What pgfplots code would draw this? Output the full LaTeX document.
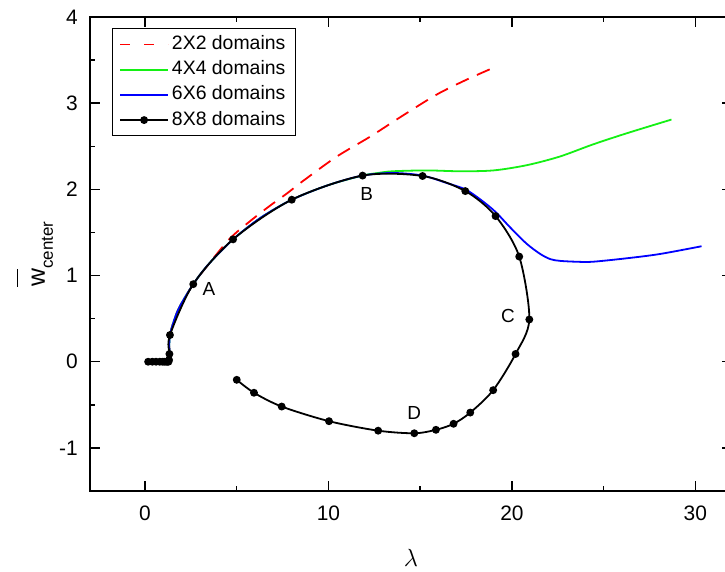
\documentclass[border=0pt]{standalone}
\usepackage{pgfplots}
\pgfplotsset{compat=1.18}
\usepackage{fontspec}
\setmainfont{Liberation Sans}
\definecolor{cred}{RGB}{255,0,0}
\definecolor{cgreen}{RGB}{20,240,20}
\definecolor{cblue}{RGB}{0,0,255}
\pgfplotsset{redlegend/.style={legend image code/.code={\draw[##1, dash pattern=on 10bp off 14bp] (0bp,0bp) -- (48bp,0bp);}}}
\begin{document}
\begin{tikzpicture}
\useasboundingbox (-90bp,-81bp) rectangle (635bp,491bp);
\begin{axis}[
  at={(0bp,0bp)}, anchor=south west,
  scale only axis, width=642bp, height=474bp,
  xmin=-3, xmax=32, ymin=-1.5, ymax=4,
  xtick={0,10,20,30}, xticklabels={0,10,20,30},
  ytick={-1,0,1,2,3,4}, yticklabels={-1,0,1,2,3,4},
  minor x tick num=1, minor y tick num=1,
  tick align=inside,
  major tick length=10bp, minor tick length=5bp,
  every tick/.style={black, line width=1.5bp},
  axis line style={line width=1.6bp},
  tick label style={font=\fontsize{21}{25}\selectfont, inner sep=0pt},
  xticklabel style={anchor=north, yshift=-15bp},
  yticklabel style={anchor=east, xshift=-12bp},
  xlabel={\fontsize{24}{28}\selectfont$\lambda$},
  every axis x label/.style={at={(axis description cs:0.5,-0.1603)}, anchor=base},
  ylabel={\fontsize{25}{30}\selectfont$\overline{\mbox{\rule{0pt}{1.05em}w}}$\raisebox{-8bp}{\fontsize{17}{20}\selectfont center}},
  every axis y label/.style={at={(axis description cs:-0.0701,0.5)}, rotate=90, anchor=base},
  legend image code/.code={\draw[mark repeat=2,mark phase=2,#1] plot coordinates {(0bp,0bp) (24bp,0bp) (48bp,0bp)};},
  legend cell align=left,
  legend style={at={(axis description cs:0.0338,0.976)}, anchor=north west,
    draw=black, line width=1bp, font=\fontsize{19.5}{22}\selectfont,
    inner xsep=7bp, inner ysep=3bp, row sep=0pt,
    nodes={inner ysep=3.6bp, inner xsep=3bp, text height=14bp, text depth=4bp}},
]
\addplot[cred, line width=1.8bp, dash pattern=on 14bp off 9bp, smooth, redlegend] coordinates {
(1.31,0.02)(1.33,0.09)(1.36,0.31)(1.8,0.60)(2.63,0.90)(3.5,1.14)(4.63,1.43)(5.72,1.63)(6.81,1.81)(7.72,1.95)(8.63,2.10)(10.45,2.38)(12.26,2.61)(14.08,2.86)(15.9,3.10)(17.5,3.27)(18.98,3.41)
};
\addlegendentry{2X2 domains}
\addplot[cgreen, line width=1.8bp, smooth] coordinates {
(1.31,0.02)(1.33,0.09)(1.36,0.31)(1.8,0.60)(2.63,0.90)(3.5,1.14)(4.8,1.42)(6.3,1.67)(8.0,1.88)(10.0,2.05)(11.86,2.16)(12.7,2.19)(13.5,2.21)(15.35,2.22)(17.17,2.21)(19.0,2.22)(20.8,2.28)(22.6,2.38)(24.4,2.52)(26.25,2.65)(28.7,2.81)
};
\addlegendentry{4X4 domains}
\addplot[cblue, line width=1.8bp, smooth] coordinates {
(1.31,0.02)(1.33,0.09)(1.36,0.31)(1.8,0.60)(2.63,0.90)(3.5,1.14)(4.8,1.42)(6.3,1.67)(8.0,1.88)(10.0,2.05)(11.86,2.16)(13.5,2.19)(15.13,2.16)(16.5,2.07)(17.46,2.0)(18.3,1.88)(19.1,1.74)(19.9,1.56)(20.8,1.37)(21.55,1.25)(22.1,1.19)(22.64,1.17)(23.55,1.16)(24.4,1.16)(26.25,1.20)(28.07,1.25)(30.34,1.34)
};
\addlegendentry{6X6 domains}
\addplot[black, line width=1.8bp, smooth, mark=*, mark size=3bp, mark options={solid}] coordinates {
(0.17,0)(0.4,0)(0.6,0)(0.8,0)(0.95,0)(1.05,0)(1.15,0)(1.22,0)(1.28,0)(1.31,0.02)(1.33,0.09)(1.36,0.31)(2.63,0.90)(4.8,1.42)(8.0,1.88)(11.86,2.16)(15.13,2.155)(17.46,1.98)(19.11,1.69)(20.4,1.22)(20.95,0.49)(20.2,0.09)(18.98,-0.33)(17.73,-0.59)(16.82,-0.72)(15.86,-0.79)(14.68,-0.83)(12.71,-0.80)(10.03,-0.69)(7.45,-0.52)(5.94,-0.36)(5.0,-0.21)
};
\addlegendentry{8X8 domains}
\node[font=\fontsize{19}{22}\selectfont] at (axis cs:3.49,0.84) {A};
\node[font=\fontsize{19}{22}\selectfont] at (axis cs:12.09,1.95) {B};
\node[font=\fontsize{19}{22}\selectfont] at (axis cs:19.78,0.53) {C};
\node[font=\fontsize{19}{22}\selectfont] at (axis cs:14.68,-0.59) {D};
\end{axis}
\end{tikzpicture}
\end{document}
